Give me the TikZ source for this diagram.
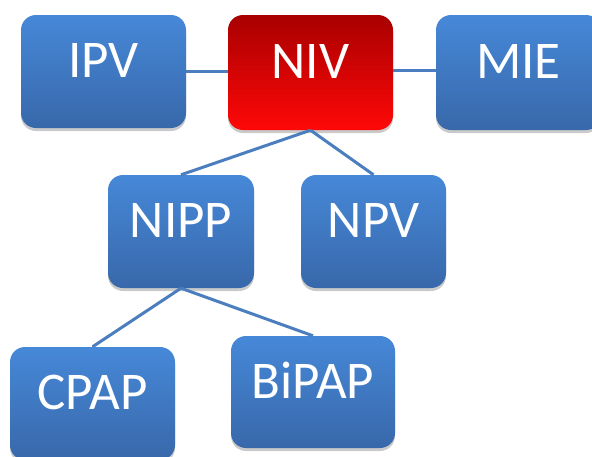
\documentclass[tikz,border=0pt]{standalone}
\usepackage{fontspec}
\setmainfont{Carlito}
\usetikzlibrary{shadows}
\definecolor{btop}{RGB}{70,136,216}
\definecolor{bbot}{RGB}{56,104,170}
\definecolor{rtop}{RGB}{168,0,0}
\definecolor{rbot}{RGB}{255,8,8}
\definecolor{linkc}{RGB}{74,126,190}
\tikzset{
  boxstyle/.style={rectangle, rounded corners=15pt, top color=btop, bottom color=bbot,
    draw=none, text=white, font=\fontsize{53}{60}\selectfont,
    text height=34pt, text depth=22pt, inner sep=0pt,
    drop shadow={shadow xshift=0pt, shadow yshift=-3pt, opacity=0.35, fill=black!60}},
  redbox/.style={boxstyle, top color=rtop, bottom color=rbot},
  linkstyle/.style={draw=linkc, line width=3pt}
}
\begin{document}
\begin{tikzpicture}[x=1pt,y=-1pt]
\useasboundingbox (0,0) rectangle (592,456);
\clip (0,0) rectangle (592,456);
% connectors (drawn behind)
\node[boxstyle, minimum width=165pt, minimum height=113pt] (ipv) at (103.5,71.5) {IPV};
\node[redbox, minimum width=165pt, minimum height=115pt] (niv) at (310.5,72.5) {NIV};
\node[boxstyle, minimum width=165pt, minimum height=115pt] (mie) at (518.5,72.5) {MIE};
\node[boxstyle, minimum width=146pt, minimum height=113pt] (nipp) at (181,231.5) {NIPP};
\node[boxstyle, minimum width=145pt, minimum height=113pt] (npv) at (373.5,231.5) {NPV};
\node[boxstyle, minimum width=165pt, minimum height=113pt] (cpap) at (92.5,403.5) {CPAP};
\node[boxstyle, minimum width=164pt, minimum height=112pt] (bipap) at (313,392) {BiPAP};
\begin{scope}[on background layer/.try]
\end{scope}
\draw[linkstyle] (ipv.east) -- (niv.west |- ipv.east);
\draw[linkstyle] (niv.east |- 0,70) -- (mie.west |- 0,70);
\draw[linkstyle] (niv.south) -- (nipp.north);
\draw[linkstyle] (niv.south) -- (npv.north);
\draw[linkstyle] (nipp.south) -- (cpap.north);
\draw[linkstyle] (nipp.south) -- (bipap.north);
\end{tikzpicture}
\end{document}
